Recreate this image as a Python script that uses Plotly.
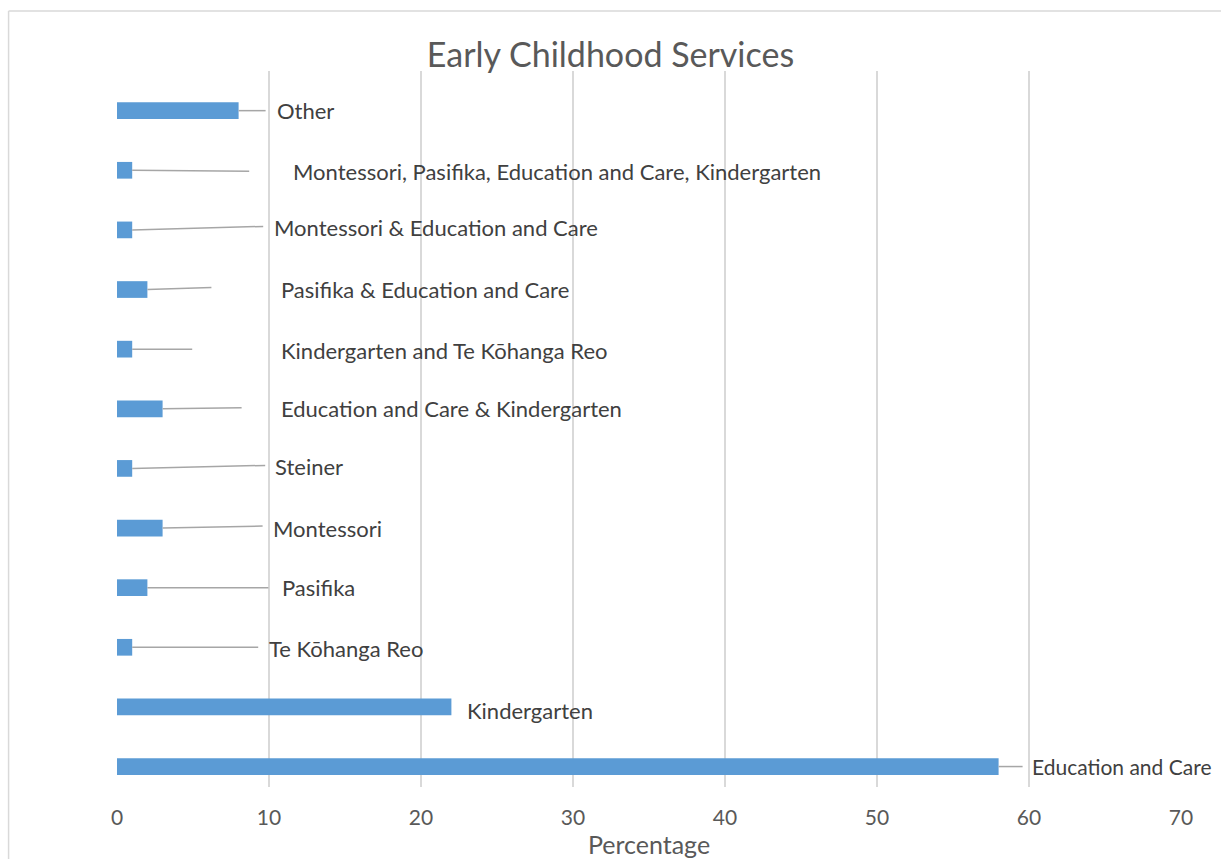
import plotly.graph_objects as go

# ---- data ----
categories = [
    "Education and Care",
    "Kindergarten",
    "Te Kōhanga Reo",
    "Pasifika",
    "Montessori",
    "Steiner",
    "Education and Care & Kindergarten",
    "Kindergarten and Te Kōhanga Reo",
    "Pasifika & Education and Care",
    "Montessori & Education and Care",
    "Montessori, Pasifika, Education and Care, Kindergarten",
    "Other",
]
values = [58, 22, 1, 2, 3, 1, 3, 1, 2, 1, 1, 8]
x_ticks = [0, 10, 20, 30, 40, 50, 60, 70]

# label placement (pixel offsets from bar end): leader line end (dx, dy), text (xshift, yshift)
line_dx = [24, 0, 126, 121, 100, 133, 79, 60, 64, 131, 117, 27]
line_dy = [0, 0, 0, 0, 2, 3, 1, 0, 2, 3.5, -1, 0]
text_dx = [31, 14, 135, 133, 108, 141, 116, 147, 132, 140, 159, 36]
text_dy = [0, -4, -1, 0, 0, 2, 0, -1, 0, 2, -1, 0]
label_size = [21, 22, 22, 22, 22, 22, 22, 22, 22, 22, 22, 22]

BAR = "#5B9BD5"
GRID = "#D9D9D9"
LEADER = "#A6A6A6"
FONT = "Lato"

fig = go.Figure()
fig.add_trace(go.Bar(
    x=values, y=categories, orientation="h",
    marker=dict(color=BAR, line=dict(width=0)),
    width=0.28, hoverinfo="x+y",
))

shapes = []
annotations = []
for i, (cat, v) in enumerate(zip(categories, values)):
    if line_dx[i] > 0:
        shapes.append(dict(
            type="line", xref="x", yref="y",
            xsizemode="pixel", ysizemode="pixel",
            xanchor=v, yanchor=i,
            x0=0, x1=line_dx[i], y0=0, y1=line_dy[i],
            line=dict(color=LEADER, width=1.5),
            layer="above",
        ))
    annotations.append(dict(
        x=v, y=i, xref="x", yref="y", text=cat, showarrow=False,
        xanchor="left", yanchor="middle",
        xshift=text_dx[i], yshift=text_dy[i],
        font=dict(family=FONT, size=label_size[i], color="#404040"),
    ))

# chart-area border (left and top)
shapes.append(dict(type="line", xref="paper", yref="paper",
                   x0=-0.1019, x1=-0.1019, y0=1.0837, y1=-0.2,
                   line=dict(color=GRID, width=1.5), layer="below"))
shapes.append(dict(type="line", xref="paper", yref="paper",
                   x0=-0.1019, x1=1.1, y0=1.0837, y1=1.0837,
                   line=dict(color=GRID, width=1.5), layer="below"))

fig.update_layout(
    width=1221, height=859,
    margin=dict(l=116.5, r=40, t=71, b=72, autoexpand=False),
    paper_bgcolor="white", plot_bgcolor="white",
    title=dict(text="Early Childhood Services", x=0.5, xanchor="center",
               y=1 - 55 / 859, yanchor="middle",
               font=dict(family=FONT, size=34, color="#595959")),
    showlegend=False,
    xaxis=dict(range=[0, 70], tickvals=x_ticks, showgrid=True, gridcolor=GRID,
               gridwidth=1.5, zeroline=False, showline=False, automargin=False,
               ticks="outside", ticklen=12, tickcolor="rgba(0,0,0,0)",
               tickfont=dict(family=FONT, size=21, color="#595959"),
               title=dict(text="Percentage", standoff=9,
                          font=dict(family=FONT, size=25, color="#595959"))),
    yaxis=dict(type="category", categoryorder="array", categoryarray=categories,
               range=[-0.343, 11.665], showticklabels=False, showgrid=False,
               zeroline=False, showline=False, ticks="", automargin=False),
    shapes=shapes,
    annotations=annotations,
)

fig.write_html("out.html", config={"displayModeBar": False},
               post_script="document.body.style.margin='0';document.body.style.overflow='hidden';")
